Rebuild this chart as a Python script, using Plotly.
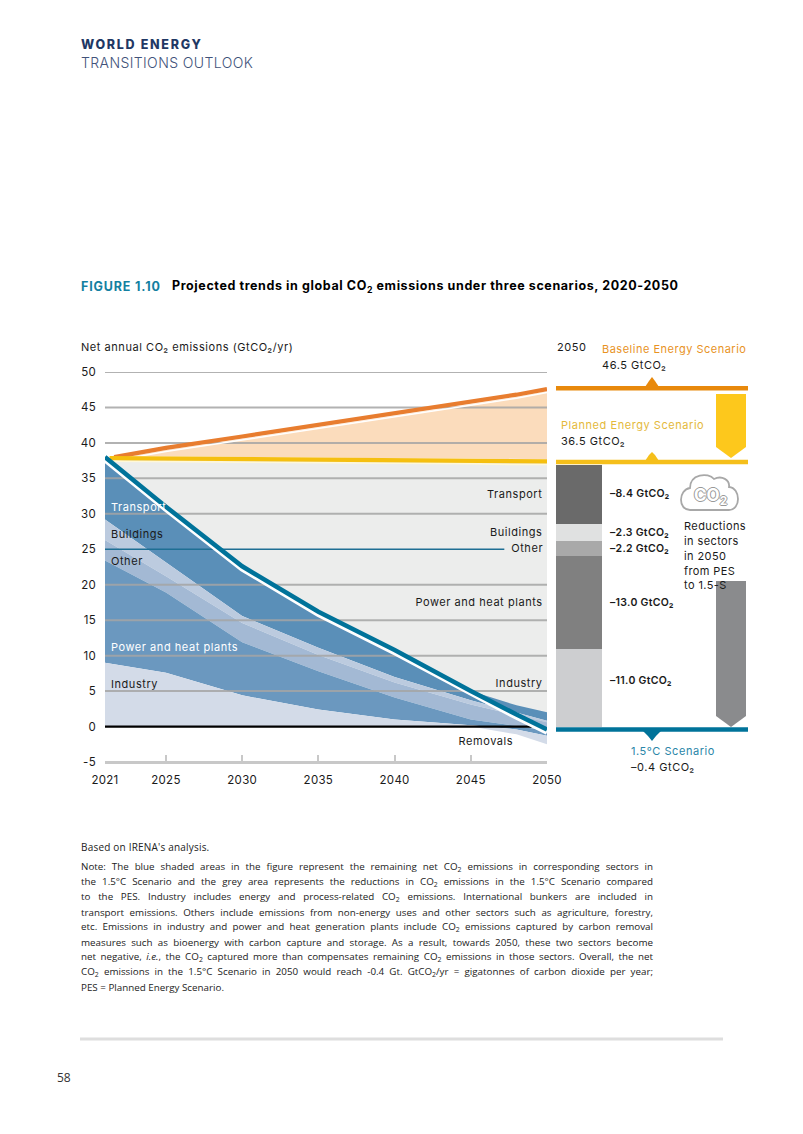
import plotly.graph_objects as go

W, H = 803, 1134
FONT = "Inter"
NOTE_FONT = "Open Sans"

# ---------- data ----------
years = [2021, 2025, 2030, 2035, 2040, 2045, 2048, 2050]
net_15 = [38.0, 31.0, 22.6, 16.2, 10.8, 5.0, 1.7, -0.4]
transport_top = [38.0, 31.0, 22.6, 16.2, 10.8, 5.0, 3.0, 2.0]
buildings_top = [29.2, 23.1, 15.6, 11.1, 7.0, 3.7, 2.0, 0.8]
other_top = [26.3, 21.2, 14.6, 10.1, 6.2, 3.1, 1.6, 0.6]
power_top = [23.4, 18.9, 11.9, 7.8, 4.1, 1.0, 0.1, -0.6]
industry_top = [9.0, 7.6, 4.4, 2.4, 1.0, 0.2, -0.4, -1.3]
removals = [0.0, 0.0, 0.0, 0.0, 0.0, 0.0, -1.1, -2.5]
bes_years = [2021.6, 2025, 2030, 2035, 2040, 2045, 2048, 2050]
bes = [38.0, 39.3, 40.9, 42.5, 44.2, 45.8, 46.8, 47.6]
pes_years = [2021.3, 2025, 2030, 2035, 2040, 2045, 2048, 2050]
pes = [37.85, 37.8, 37.75, 37.65, 37.55, 37.5, 37.4, 37.4]

y_ticks = [-5, 0, 5, 10, 15, 20, 25, 30, 35, 40, 45, 50]
y_tick_labels = ["-5", "0", "5", "10", "15", "20", "25", "30", "35", "40", "45", "50"]
x_ticks = [2021, 2025, 2030, 2035, 2040, 2045, 2050]
grid_levels = [5, 10, 15, 20, 30, 35, 40, 45, 50]

bar_sectors = ["Industry", "Power and heat plants", "Other", "Buildings", "Transport"]
bar_values = [11.0, 13.0, 2.2, 2.3, 8.4]
bar_colors = ["#cdced0", "#808080", "#a9a9a9", "#e0e1e1", "#6a6a6a"]

scenario_levels = [47.7, 37.3, -0.4]
scenario_colors = ["#e8890c", "#f5bf1b", "#00739a"]

note_lines = [
    "Note: The blue shaded areas in the figure represent the remaining net CO<sub>2</sub> emissions in corresponding sectors in",
    "the 1.5°C Scenario and the grey area represents the reductions in CO<sub>2</sub> emissions in the 1.5°C Scenario compared",
    "to the PES. Industry includes energy and process-related CO<sub>2</sub> emissions. International bunkers are included in",
    "transport emissions. Others include emissions from non-energy uses and other sectors such as agriculture, forestry,",
    "etc. Emissions in industry and power and heat generation plants include CO<sub>2</sub> emissions captured by carbon removal",
    "measures such as bioenergy with carbon capture and storage. As a result, towards 2050, these two sectors become",
    "net negative, <i>i.e.</i>, the CO<sub>2</sub> captured more than compensates remaining CO<sub>2</sub> emissions in those sectors. Overall, the net",
    "CO<sub>2</sub> emissions in the 1.5°C Scenario in 2050 would reach -0.4 Gt. GtCO<sub>2</sub>/yr = gigatonnes of carbon dioxide per year;",
    "PES = Planned Energy Scenario.",
]

# ---------- helpers ----------
def px(x):
    return x / W

def py(y):
    return 1 - y / H

fig = go.Figure()

def band(xs, top, bottom, color):
    fig.add_trace(go.Scatter(
        x=xs + xs[::-1], y=top + bottom[::-1], mode="lines", fill="toself",
        fillcolor=color, line=dict(width=0), hoverinfo="skip", showlegend=False))

def line(xs, ys, color, width, xaxis="x"):
    fig.add_trace(go.Scatter(
        x=xs, y=ys, mode="lines", line=dict(color=color, width=width), xaxis=xaxis,
        hoverinfo="skip", showlegend=False, cliponaxis=False))

# ---------- main areas ----------
band(years, pes, net_15, "#ecedec")
band(bes_years, [v - 0.35 for v in bes], [v + 0.3 for v in pes], "#fbdcbc")
band(years, transport_top, buildings_top, "#5a8fb8")
band(years, buildings_top, other_top, "#bccbdf")
band(years, other_top, power_top, "#a3b9d4")
band(years, power_top, industry_top, "#6b98bf")
band(years, industry_top, removals, "#d3dbe8")

for lv in grid_levels:
    line([x_ticks[0], x_ticks[-1]], [lv, lv], "rgba(165,165,165,0.85)", 2)
line([x_ticks[0], 2047.2], [25, 25], "#1e6f94", 1.3)
line([x_ticks[0], 2049], [0, 0], "#000000", 2.2)
line([x_ticks[0], x_ticks[-1]], [y_ticks[0], y_ticks[0]], "#c8c8c8", 2)

line(bes_years, [v - 0.5 for v in bes], "#ffffff", 1.5)
line(bes_years, bes, "#e87d2f", 4.2)
line(pes_years, [v - 0.45 for v in pes], "#fff8d8", 1.5)
line(pes_years, pes, "#f5bf10", 4.2)
line(years, [v - 0.4 for v in net_15], "#ffffff", 5)
line(years, net_15, "#00739a", 4.5)

# ---------- 2050 stacked bar on the same y scale ----------
for name, value, color in zip(bar_sectors, bar_values, bar_colors):
    fig.add_trace(go.Bar(x=[23], y=[value], width=[46], name=name, marker=dict(color=color, line=dict(width=0)),
                         xaxis="x2", yaxis="y", hoverinfo="skip", showlegend=False))

for lv, c in zip(scenario_levels, scenario_colors):
    line([0, 192], [lv, lv], c, 4.5, xaxis="x2")

# ---------- decorative shapes ----------
def poly(points, color):
    path = "M " + " L ".join(f"{px(a):.5f},{py(b):.5f}" for a, b in points) + " Z"
    return dict(type="path", path=path, xref="paper", yref="paper", fillcolor=color, line=dict(width=0), layer="above")

shapes = [
    poly([(716, 394), (746, 394), (746, 447), (731, 458), (716, 447)], "#fdc81c"),
    poly([(716, 581), (746, 581), (746, 716), (731, 727), (716, 716)], "#8a8b8d"),
    poly([(645, 387), (649, 381), (652, 377), (655, 381), (659, 387)], "#e8890c"),
    poly([(645, 461), (649, 455), (652, 452), (655, 455), (659, 461)], "#f5bf1b"),
    poly([(643, 731), (661, 731), (656, 736), (652, 741), (648, 736)], "#00739a"),
    dict(type="line", xref="paper", yref="paper", x0=px(80), x1=px(723), y0=py(1039), y1=py(1039),
         line=dict(color="#dedede", width=3)),
]
cloud = (f"M {px(690):.5f},{py(510):.5f} "
         f"C {px(678):.5f},{py(510):.5f} {px(678):.5f},{py(490):.5f} {px(690):.5f},{py(488):.5f} "
         f"C {px(690):.5f},{py(474):.5f} {px(708):.5f},{py(472):.5f} {px(714):.5f},{py(479):.5f} "
         f"C {px(722):.5f},{py(475):.5f} {px(730):.5f},{py(480):.5f} {px(729):.5f},{py(487):.5f} "
         f"C {px(741):.5f},{py(488):.5f} {px(741):.5f},{py(510):.5f} {px(729):.5f},{py(510):.5f} Z")
shapes.append(dict(type="path", path=cloud, xref="paper", yref="paper", line=dict(color="#a8a8a8", width=1.8),
                   fillcolor="rgba(0,0,0,0)", layer="above"))

# ---------- text ----------
ann = []
spacing = {}
def txt(x, y, s, size=11, color="#1a1a1a", anchor="left", family=FONT, weight=None, ls=0.55, **font_extra):
    f = dict(family=family, size=size, color=color, **font_extra)
    if weight:
        f["weight"] = weight
    spacing[len(ann)] = ls
    ann.append(dict(x=px(x), y=py(y), xref="paper", yref="paper", text=s, showarrow=False, xanchor=anchor,
                    yanchor="middle", align=anchor, font=f, borderpad=0))

for i, ln in enumerate(note_lines):
    txt(80, 867 + 15 * i, ln, size=9.8, color="#222222", family=NOTE_FONT, ls=0)
txt(80, 847, "Based on IRENA's analysis.", size=10, color="#222222", family=NOTE_FONT, ls=0.2)
txt(56, 1077, "58", size=12, color="#333333", family=NOTE_FONT, ls=0)

txt(80, 44, "WORLD ENERGY", size=12.5, color="#1f3864", weight=800, ls=1.7)
txt(80, 62, "TRANSITIONS OUTLOOK", size=14, color="#41527a", weight=300, ls=0.4)
txt(80, 286, "FIGURE 1.10", size=12.5, color="#1380a1", weight=700, ls=0.85)
txt(171, 286, "Projected trends in global CO<sub>2</sub> emissions under three scenarios, 2020-2050", size=12.5, color="#000000", weight=700, ls=0.6)
txt(80, 347, "Net annual CO₂ emissions (GtCO₂/yr)", size=11)
txt(556, 347, "2050", size=11)
txt(601, 349, "Baseline Energy Scenario", size=11, color="#e8931f", ls=0.5)
txt(601, 365, "46.5 GtCO₂", size=11)
txt(560, 425, "Planned Energy Scenario", size=11, color="#e4b93b")
txt(560, 441, "36.5 GtCO₂", size=11)
for yy, s in [(493, "–8.4"), (532, "–2.3"), (548, "–2.2"), (602, "–13.0"), (680, "–11.0")]:
    txt(609, yy, s + " GtCO₂", size=10.5, weight=600, ls=0.3)
for yy, s in [(526, "Reductions"), (541, "in sectors"), (556, "in 2050"), (571, "from PES"), (585, "to 1.5-S")]:
    txt(683, yy, s, size=11, ls=0.4)
txt(630, 751, "1.5°C Scenario", size=11, color="#2a86a8")
txt(630, 767, "–0.4 GtCO₂", size=11)
for yy, s in [(494, "Transport"), (532, "Buildings"), (548, "Other"), (602, "Power and heat plants"), (683, "Industry")]:
    txt(544, yy, s, size=11, anchor="right")
txt(514, 741, "Removals", size=11, anchor="right")
txt(110, 507, "Transport", size=11, color="#ffffff")
txt(110, 534, "Buildings", size=11)
txt(110, 561, "Other", size=11)
txt(110, 647, "Power and heat plants", size=11, color="#ffffff")
txt(110, 684, "Industry", size=11)
txt(710, 497, "CO<sub>2</sub>", size=17, color="#ffffff", anchor="center", weight=700, ls=0,
    shadow="-1px 0 #999, 1px 0 #999, 0 -1px #999, 0 1px #999")

fig.update_layout(
    width=W, height=H, margin=dict(l=0, r=0, t=0, b=0, autoexpand=False), paper_bgcolor="white", plot_bgcolor="white",
    barmode="stack", bargap=0, showlegend=False, shapes=shapes, annotations=ann,
    xaxis=dict(domain=[px(105), px(547)], range=[2021, 2050], tickmode="array", tickvals=x_ticks,
               showgrid=False, zeroline=False, showline=True, linecolor="#c8c8c8", linewidth=2,
               ticks="inside", ticklen=7, tickwidth=2, tickcolor="#c8c8c8", automargin=False, ticklabelstandoff=6,
               tickfont=dict(family=FONT, size=11.5, color="#1a1a1a"), anchor="y"),
    xaxis2=dict(domain=[px(556), px(748)], range=[0, 192], visible=False, anchor="y"),
    yaxis=dict(domain=[py(762), py(372)], range=[-5, 50], tickmode="array", tickvals=y_ticks, ticktext=y_tick_labels,
               showgrid=False, zeroline=False, showline=False, ticks="", ticklabelstandoff=8, automargin=False,
               tickfont=dict(family=FONT, size=11.5, color="#1a1a1a")),
)

post = """
document.documentElement.style.overflow='hidden';
document.body.style.margin='0';
const LS = %s;
document.querySelectorAll('.annotation').forEach(a=>{
  const i=+a.getAttribute('data-index');
  const t=a.querySelector('text');
  if(!t) return;
  if(i<8){
    const s=t.textContent.split(' ').length-1;
    const w=t.getComputedTextLength();
    t.style.wordSpacing=((572-w)/s)+'px';
  } else if(LS[i]){
    t.style.letterSpacing=LS[i]+'px';
  }
});
document.querySelectorAll('.xtick text, .ytick text').forEach(t=>{t.style.letterSpacing='0.3px';});
""" % str(spacing)
fig.write_html("out.html", post_script=post, config=dict(displayModeBar=False))
